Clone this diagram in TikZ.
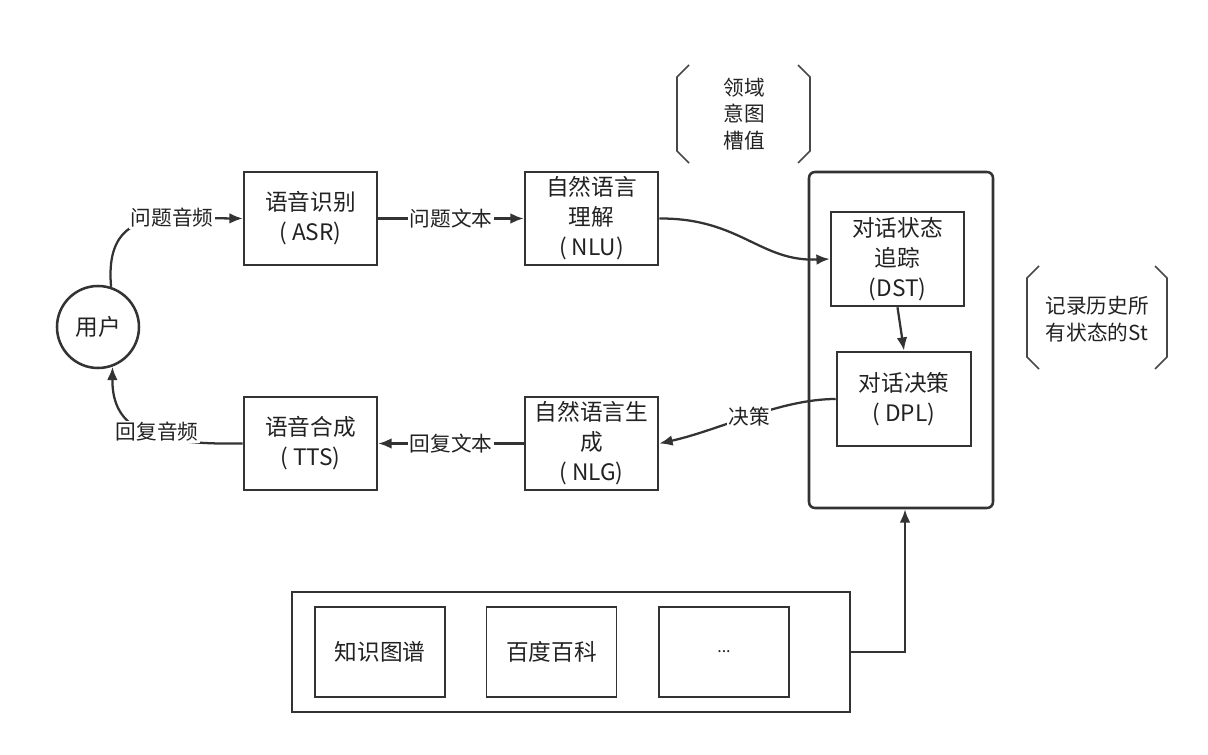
\documentclass[tikz,border=0pt]{standalone}
\usepackage{fontspec}
\setmainfont{Noto Sans CJK SC}
\usetikzlibrary{arrows.meta}
\definecolor{ln}{HTML}{333333}
\definecolor{tx}{HTML}{222222}
\tikzset{
  pbox/.style={draw=ln, line width=1.9pt, inner sep=0pt, align=center, text=tx,
    font=\fontsize{17}{22.5}\selectfont},
  ibox/.style={draw=ln, line width=1.2pt, inner sep=0pt, align=center, text=tx,
    font=\fontsize{17}{22.5}\selectfont, minimum width=97.5pt, minimum height=67.5pt},
  conn/.style={draw=ln, line width=1.7pt, -{Latex[length=10pt,width=8pt]}},
  lbl/.style={fill=white, inner sep=1pt, text=tx, font=\fontsize{15.5}{18}\selectfont},
  brk/.style={draw=ln!90, line width=1.3pt},
  btxt/.style={text=tx, align=center, font=\fontsize{15.5}{20}\selectfont}
}
\begin{document}
\begin{tikzpicture}[x=0.75pt,y=-0.75pt]
\useasboundingbox (0,0) rectangle (1208,755);
% user
\node[draw=ln, line width=1.9pt, circle, minimum size=61.5pt, inner sep=0pt, text=tx,
  font=\fontsize{17}{22}\selectfont] (user) at (98,327) {用户};
% main boxes
\node[pbox, minimum width=99.75pt, minimum height=69.75pt] (asr) at (310.5,218.5) {语音识别\\( ASR)};
\node[pbox, minimum width=99.75pt, minimum height=69.75pt] (nlu) at (591.5,218.5) {自然语言\\理解\\( NLU)};
\node[pbox, minimum width=99.75pt, minimum height=69.75pt] (tts) at (310.5,443.5) {语音合成\\( TTS)};
\node[pbox, minimum width=99.75pt, minimum height=69.75pt] (nlg) at (591.5,443.5) {自然语言生\\成\\( NLG)};
% dialog manager container
\node[draw=ln, line width=1.9pt, rounded corners=4.5pt, minimum width=138pt, minimum height=252pt, inner sep=0pt] (big) at (901,340) {};
\node[pbox, minimum width=99.75pt, minimum height=70.5pt] (dst) at (897.5,259) {对话状态\\追踪\\(DST)};
\node[pbox, minimum width=100.5pt, minimum height=70.5pt] (dpl) at (904,399) {对话决策\\( DPL)};
% knowledge container
\node[draw=ln, line width=1.9pt, minimum width=418.5pt, minimum height=90pt, inner sep=0pt] (kb) at (571,652) {};
\node[ibox] (kg) at (380,652) {知识图谱};
\node[ibox] (bk) at (551.5,652) {百度百科};
\node[ibox] (more) at (724,652) {\fontsize{12}{14}\selectfont ...};
% brackets
\draw[brk] (689,65) -- (677,77) -- (677,151) -- (689,163);
\draw[brk] (798,65) -- (810,77) -- (810,151) -- (798,163);
\node[btxt] (slot) at (744,114) {领域\\意图\\槽值};
\draw[brk] (1039,266) -- (1027,278) -- (1027,357) -- (1039,369);
\draw[brk] (1155,266) -- (1167,278) -- (1167,357) -- (1155,369);
\node[btxt] (hist) at (1097,319) {记录历史所\\有状态的St};
% connectors
\draw[conn] (user.72) .. controls (107,240) and (125,218) .. (172,218) node[lbl] {问题音频} -- (asr.west);
\draw[conn] (asr.east) -- node[lbl] {问题文本} (nlu.west);
\draw[conn] (nlu.east) .. controls (740,218) and (760,262) .. (dst.west);
\draw[conn] (dst.south) -- (dpl.north);
\draw[conn] (dpl.west) .. controls (780,399) and (720,430) .. node[lbl, pos=0.5] {决策} (nlg.east);
\draw[conn] (nlg.west) -- node[lbl] {回复文本} (tts.east);
\draw[conn] (tts.west) .. controls (150,445) and (112,430) .. (user.-70);
\node[lbl] (lab4) at (157,432) {回复音频};
\draw[conn] (kb.east) -| ([xshift=3pt]big.south);
\end{tikzpicture}
\end{document}
